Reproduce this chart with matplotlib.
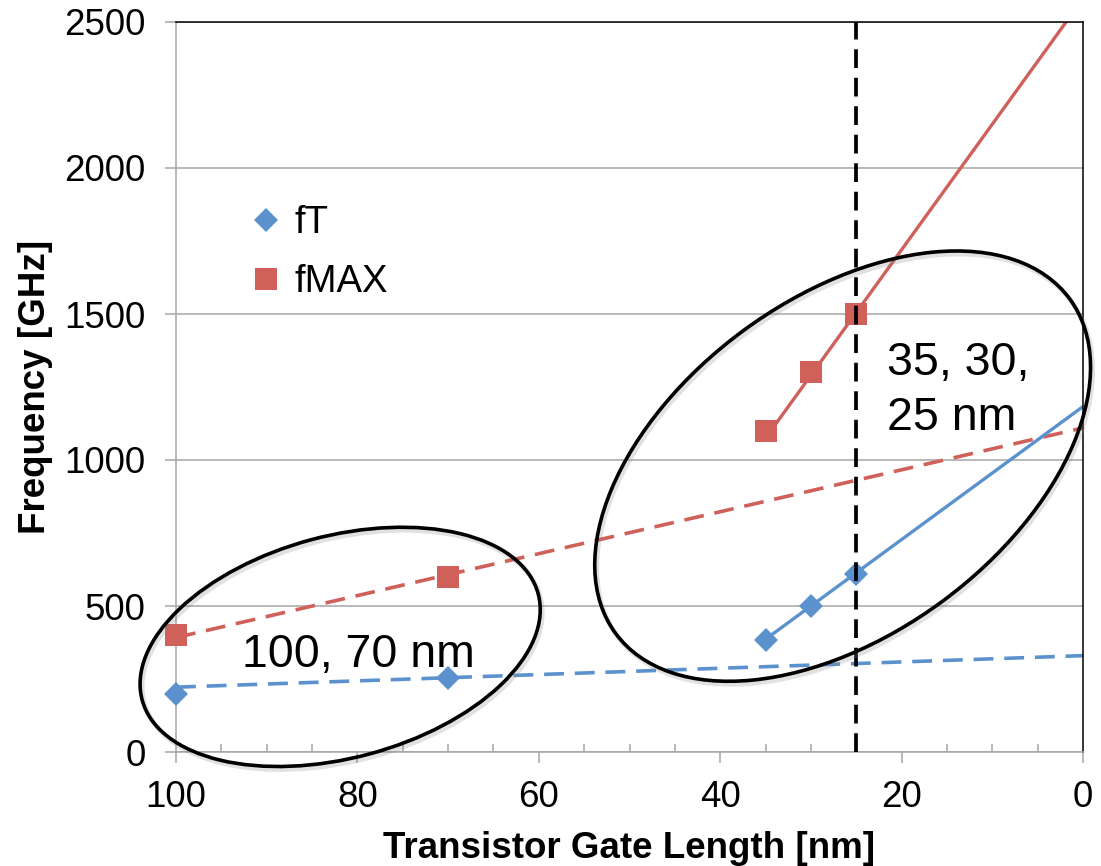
import matplotlib
matplotlib.use("Agg")
import matplotlib.pyplot as plt
import matplotlib.transforms as mtransforms
from matplotlib.patches import Ellipse
from matplotlib.ticker import MultipleLocator

plt.rcParams['font.family'] = ['Liberation Sans', 'DejaVu Sans']

# measured devices
gate_nm = [100, 70, 35, 30, 25]
ft_ghz = [200, 253, 385, 500, 610]
fmax_ghz = [400, 600, 1100, 1300, 1500]

# trend lines: older generation (dashed) and newer generation (solid)
old_fit_x = [100, 0]
ft_old_fit = [222, 330]
fmax_old_fit = [392, 1110]
new_fit_x = [35, 0]
ft_new_fit = [386, 1183]
fmax_new_fit = [1075, 2580]

marker_line = 25

blue = '#5B92CE'
red = '#CF605A'
grey = '#A6A6A6'

fig = plt.figure(figsize=(11.01, 8.66), dpi=100)
ax = fig.add_axes([176 / 1101, 114 / 866, 907 / 1101, 730 / 866])

ax.set_xlim(100, 0)
ax.set_ylim(0, 2500)

ax.yaxis.set_major_locator(MultipleLocator(500))
ax.xaxis.set_major_locator(MultipleLocator(20))
ax.xaxis.set_minor_locator(MultipleLocator(5))
ax.grid(axis='y', color=grey, linewidth=1.1)
ax.set_axisbelow(True)

for side in ['left', 'bottom']:
    ax.spines[side].set_color(grey)
    ax.spines[side].set_linewidth(1.1)
for side in ['top', 'right']:
    ax.spines[side].set_color('black')
    ax.spines[side].set_linewidth(1.1)

ax.tick_params(axis='both', which='major', direction='out', length=8, width=1.1,
               color=grey, labelsize=26.5)
ax.tick_params(axis='y', which='major', pad=14)
ax.tick_params(axis='x', which='major', pad=12)
ax.tick_params(axis='x', which='minor', direction='in', length=6, width=1.1, color=grey)

# trend lines
ax.plot(old_fit_x, ft_old_fit, color=blue, lw=2.6, dashes=(5.5, 3))
ax.plot(old_fit_x, fmax_old_fit, color=red, lw=2.6, dashes=(5.5, 3))
ax.plot(new_fit_x, ft_new_fit, color=blue, lw=2.4)
ax.plot(new_fit_x, fmax_new_fit, color=red, lw=2.4)

# data points
ax.plot(gate_nm, ft_ghz, linestyle='none', marker='D', ms=12.5, mew=0,
        color=blue, label='fT', zorder=4, clip_on=False)
ax.plot(gate_nm, fmax_ghz, linestyle='none', marker='s', ms=16, mew=0,
        color=red, label='fMAX', zorder=4, clip_on=False)

ax.axvline(marker_line, color='black', lw=2.7, dashes=(5, 2.6), zorder=5)

# circled groups, sized in pixels around a data-space centre
groups = [
    # centre x, centre y, semi-major px, semi-minor px, angle
    (81.9, 360, 205, 111, 15),
    (26.5, 979, 282, 168, 36.4),
]
for cx, cy, a, b, ang in groups:
    offset = mtransforms.ScaledTranslation(cx, cy, ax.transData)
    shadow = Ellipse((0.02, -0.03), 2 * a / 100, 2 * b / 100, angle=ang,
                     fill=False, edgecolor='#888888', lw=3.5, alpha=0.25,
                     transform=fig.dpi_scale_trans + offset, clip_on=False, zorder=5)
    ring = Ellipse((0, 0), 2 * a / 100, 2 * b / 100, angle=ang,
                   fill=False, edgecolor='black', lw=2.6,
                   transform=fig.dpi_scale_trans + offset, clip_on=False, zorder=6)
    ax.add_patch(shadow)
    ax.add_patch(ring)

ax.text(92.7, 291, '100, 70 nm', fontsize=33.5, ha='left', va='baseline', zorder=7)
ax.text(21.6, 1291, '35, 30,', fontsize=33.5, ha='left', va='baseline', zorder=7)
ax.text(21.6, 1103, '25 nm', fontsize=33.5, ha='left', va='baseline', zorder=7)

ax.legend(loc='upper left', bbox_to_anchor=(0.07, 0.77), frameon=False,
          fontsize=27.5, handlelength=0.6, handletextpad=0.45, labelspacing=0.6,
          borderaxespad=0)

ax.set_xlabel('Transistor Gate Length [nm]', fontsize=26.5, fontweight='bold', labelpad=12)
ax.set_ylabel('Frequency [GHz]', fontsize=26.5, fontweight='bold', labelpad=8)

fig.savefig('out.png', dpi=100)
